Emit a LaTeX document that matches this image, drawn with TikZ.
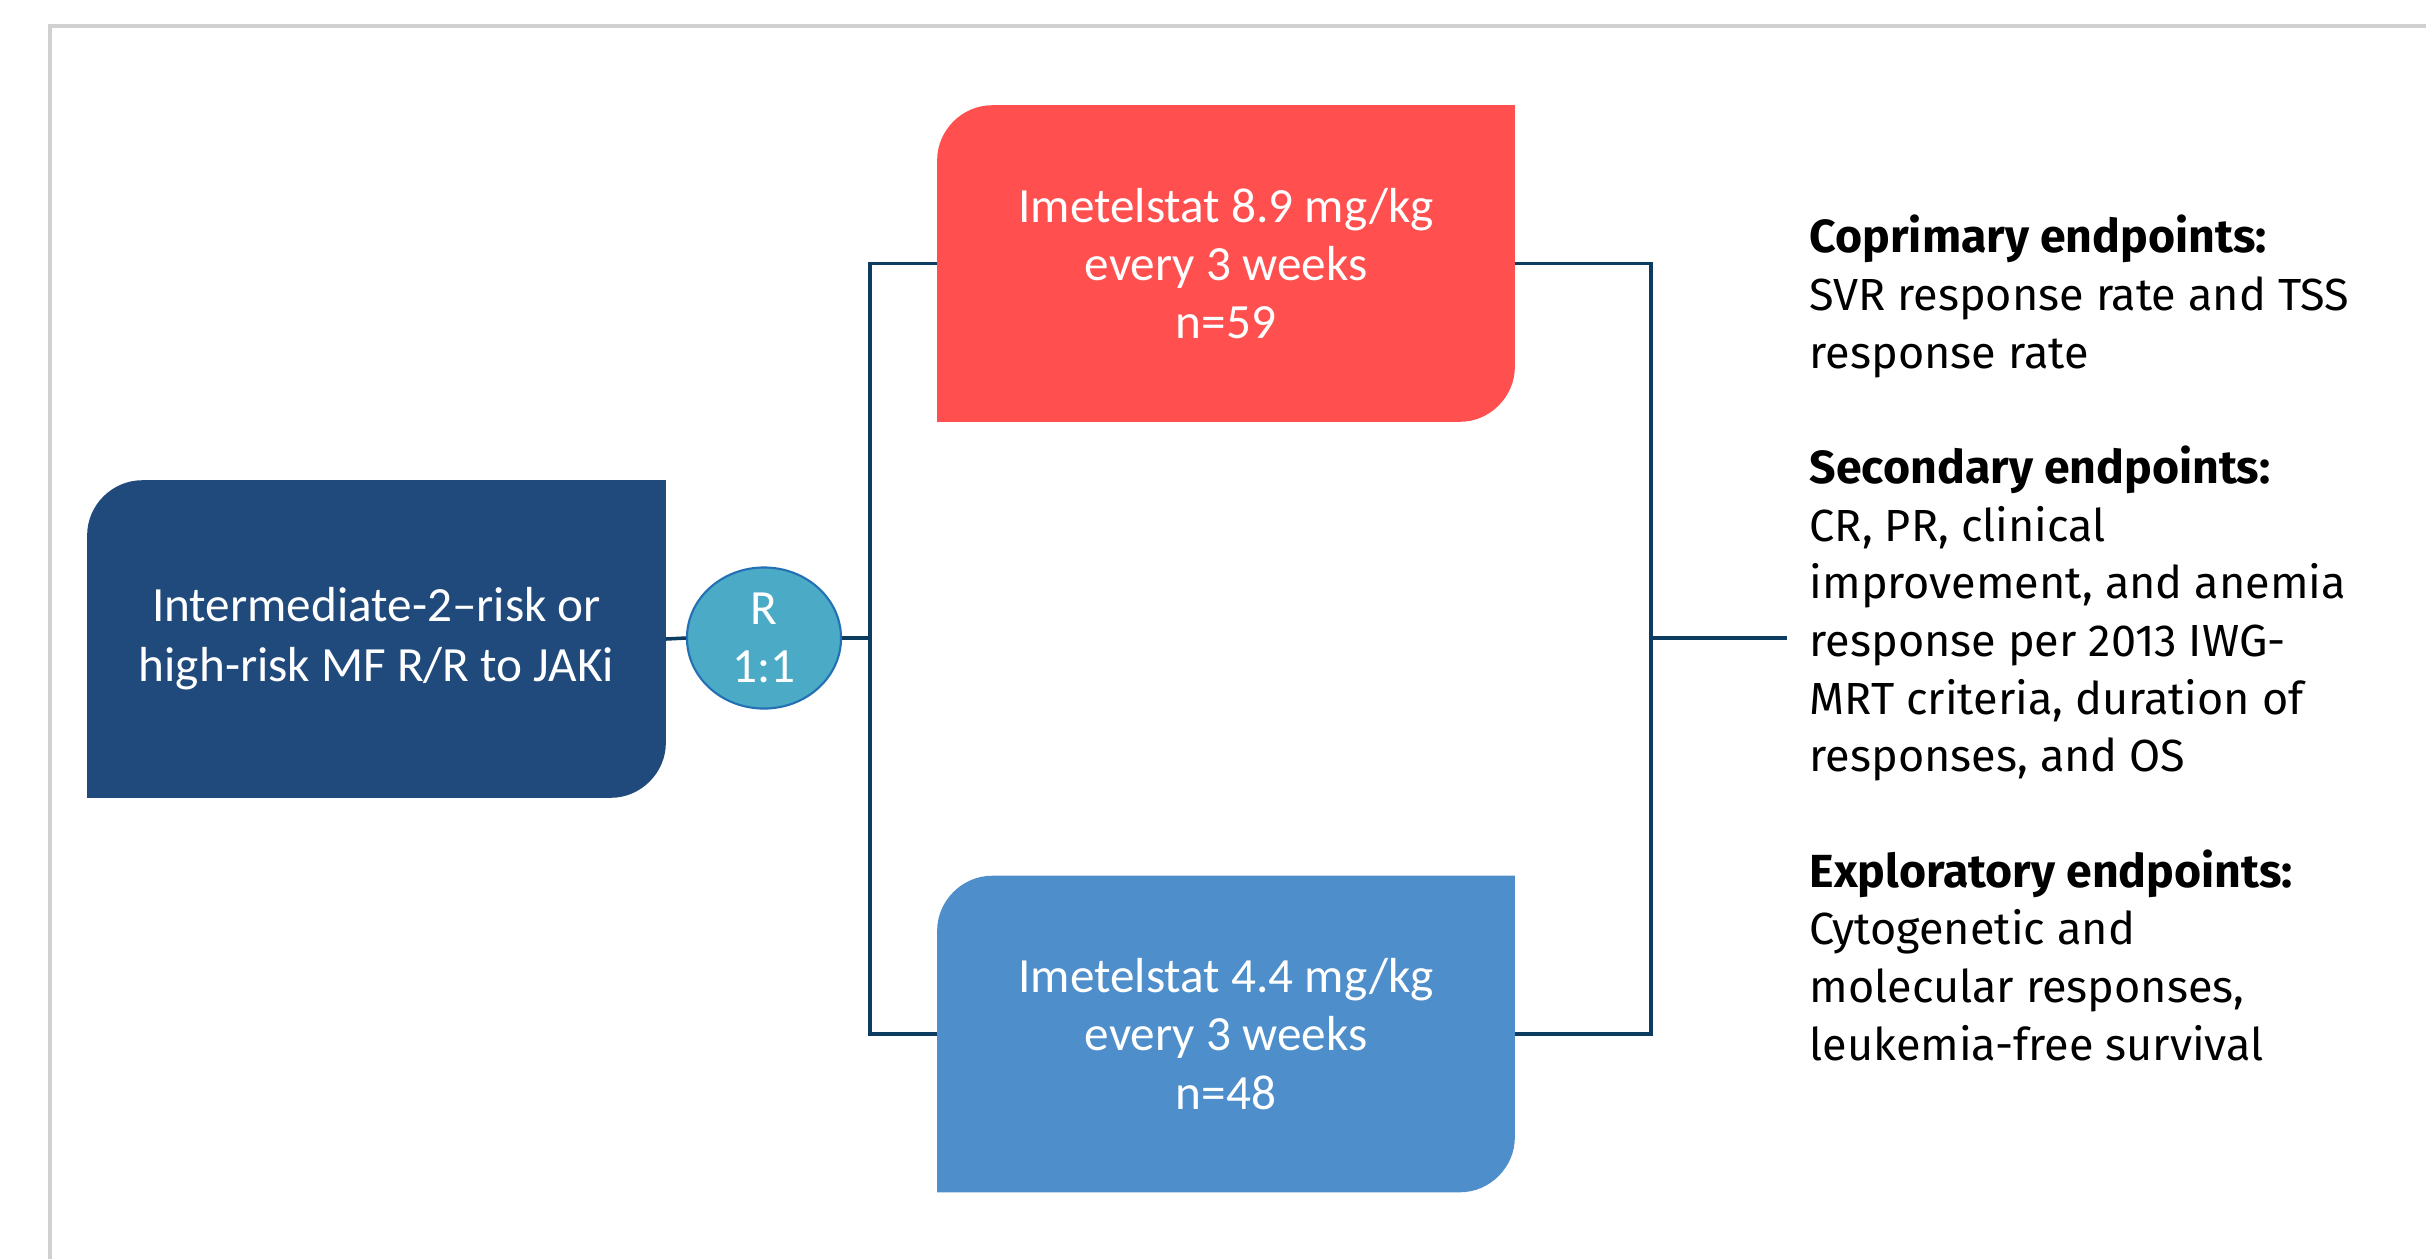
\documentclass[tikz,border=0pt]{standalone}
\usepackage{fontspec}
\setmainfont{Fira Sans}
\newfontfamily\boxfont{Carlito}
\usetikzlibrary{backgrounds,shapes.geometric}
\definecolor{navybox}{RGB}{33,74,124}
\definecolor{redbox}{RGB}{255,79,79}
\definecolor{bluebox}{RGB}{78,143,203}
\definecolor{rfill}{RGB}{75,171,198}
\definecolor{rborder}{RGB}{36,112,181}
\definecolor{connc}{RGB}{13,60,97}
\definecolor{framegrey}{RGB}{208,208,208}
\tikzset{
  armbox/.style={minimum width=5.76cm, minimum height=3.15cm, inner sep=0pt,
    text=white, font=\boxfont\fontsize{14}{16.6}\selectfont, align=center},
  conn/.style={draw=connc, line width=1pt},
}
\newcommand\hd[1]{{\fontsize{13.2}{16.4}\selectfont\bfseries #1}}
\newcommand\leafshape[2]{\fill[#2] (#1.south west) -- ([yshift=-5.5mm]#1.north west) .. controls ([yshift=-2.5mm]#1.north west) and ([xshift=2.5mm]#1.north west) .. ([xshift=5.5mm]#1.north west) -- (#1.north east) -- ([yshift=5.5mm]#1.south east) .. controls ([yshift=2.5mm]#1.south east) and ([xshift=-2.5mm]#1.south east) .. ([xshift=-5.5mm]#1.south east) -- cycle;}
\begin{document}
\begin{tikzpicture}[x=0.01cm,y=-0.01cm]
\useasboundingbox (0,0) rectangle (2426,1259);
\draw[framegrey, line width=1pt] (50,1259) -- (50,26) -- (2426,26);
\node[armbox, minimum width=5.77cm, minimum height=3.16cm, font=\boxfont\fontsize{14}{17}\selectfont] (pop) at (376.5,639) {Intermediate-2–risk or\\high-risk MF R/R to JAKi};
\node[armbox] (hi) at (1226,263.5) {Imetelstat 8.9 mg/kg\\every 3 weeks\\n=59};
\node[armbox] (lo) at (1226,1034) {Imetelstat 4.4 mg/kg\\every 3 weeks\\n=48};
\node[ellipse, fill=rfill, draw=rborder, line width=0.6pt, minimum width=1.54cm, minimum height=1.41cm, inner sep=0pt, text=white, font=\boxfont\fontsize{14}{16.6}\selectfont, align=center] (rand) at (764,638) {R\\1:1};
\coordinate (busL) at (870,638);
\coordinate (busR) at (1651,638);
\node[anchor=west, align=left, inner xsep=0.22cm, inner ysep=0pt, font=\fontsize{12.8}{16.4}\selectfont] (ep) at (1787,638) {\hd{Coprimary endpoints:}\\SVR response rate and TSS\\response rate\\[16.4pt]\hd{Secondary endpoints:}\\CR, PR, clinical\\improvement, and anemia\\response per 2013 IWG-\\MRT criteria, duration of\\responses, and OS\\[16.4pt]\hd{Exploratory endpoints:}\\Cytogenetic and\\molecular responses,\\leukemia-free survival};
\begin{scope}[on background layer]
\fill[white] (0,0) rectangle (2426,1259);
\leafshape{pop}{navybox}
\leafshape{hi}{redbox}
\leafshape{lo}{bluebox}
\end{scope}
\draw[conn] (pop.east) -- (rand.west);
\draw[conn] (rand.east) -- (busL);
\draw[conn] (hi.west) -| (busL) |- (lo.west);
\draw[conn] (hi.east) -| (busR) |- (lo.east);
\draw[conn] (busR) -- (ep.west);
\end{tikzpicture}
\end{document}
